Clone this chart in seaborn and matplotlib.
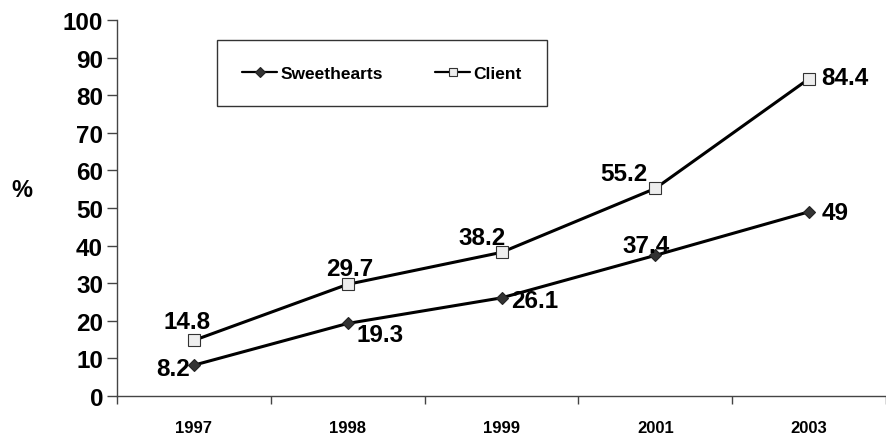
import matplotlib
matplotlib.use("Agg")
import matplotlib.pyplot as plt
import seaborn as sns
import numpy as np
import pandas as pd
from matplotlib.ticker import FixedLocator

years = ["1997", "1998", "1999", "2001", "2003"]
sweethearts = [8.2, 19.3, 26.1, 37.4, 49]
client = [14.8, 29.7, 38.2, 55.2, 84.4]
yticks = [0, 10, 20, 30, 40, 50, 60, 70, 80, 90, 100]

sns.set_style("white")
plt.rcParams["font.family"] = ["Liberation Sans", "DejaVu Sans"]
plt.rcParams["font.weight"] = "bold"
plt.rcParams["text.color"] = "black"
plt.rcParams["xtick.color"] = "black"
plt.rcParams["ytick.color"] = "black"
plt.rcParams["xtick.labelcolor"] = "black"
plt.rcParams["ytick.labelcolor"] = "black"

fig = plt.figure(figsize=(8.86, 4.39), dpi=100)
ax = fig.add_axes([117 / 886, 42 / 439, 1 - 117 / 886, (397 - 21) / 439])

pos = np.arange(len(years))
df_s = pd.DataFrame({"pos": pos, "val": sweethearts})
df_c = pd.DataFrame({"pos": pos, "val": client})

sns.lineplot(data=df_s, x="pos", y="val", ax=ax, color="black", linewidth=2.2,
             marker="D", markersize=6.2, markerfacecolor="#333333",
             markeredgecolor="#222222", markeredgewidth=0.8, label="Sweethearts")
sns.lineplot(data=df_c, x="pos", y="val", ax=ax, color="black", linewidth=2.2,
             marker="s", markersize=8, markerfacecolor="#eeeeee",
             markeredgecolor="#333333", markeredgewidth=0.8, label="Client")

ax.set_xlim(-0.5, len(years) - 0.5)
ax.set_ylim(0, 100)
ax.set_xlabel("")
ax.set_ylabel("")

ax.set_xticks(pos)
ax.set_xticklabels(years, fontsize=12, fontweight="bold")
ax.xaxis.set_minor_locator(FixedLocator(np.arange(-0.5, len(years), 1.0)))
ax.tick_params(axis="x", which="major", length=0, pad=17)
ax.tick_params(axis="x", which="minor", length=6, width=1, color="#444444", direction="out", bottom=True)
ax.set_yticks(yticks)
ax.set_yticklabels([str(v) for v in yticks], fontsize=17.5, fontweight="bold")
ax.tick_params(axis="y", length=7, width=1, color="#444444", direction="out", left=True, pad=3)

for s in ["top", "right"]:
    ax.spines[s].set_visible(False)
for s in ["left", "bottom"]:
    ax.spines[s].set_color("#444444")
    ax.spines[s].set_linewidth(1.0)

s_off = [(-21, -3), (32, -11), (33, -3), (-9, 10), (26, -1)]
c_off = [(-7, 19), (2, 16), (-19, 15), (-31, 15), (36, 1)]
for i, v in enumerate(sweethearts):
    ax.annotate(f"{v:g}", (pos[i], v), xytext=s_off[i], textcoords="offset pixels",
                ha="center", va="center", fontsize=17.5, fontweight="bold", color="black")
for i, v in enumerate(client):
    ax.annotate(f"{v:g}", (pos[i], v), xytext=c_off[i], textcoords="offset pixels",
                ha="center", va="center", fontsize=17.5, fontweight="bold", color="black")

fig.text(22 / 886, 1 - 191 / 439, "%", fontsize=17, fontweight="bold", ha="center", va="center",
         color="black")

leg = ax.legend(loc="center", bbox_to_anchor=(217 / 886, 1 - 108 / 439, 330 / 886, 68 / 439),
                bbox_transform=fig.transFigure, mode="expand", ncol=2, frameon=True,
                fancybox=False, shadow=False, edgecolor="black",
                borderpad=1.45, handlelength=2.0, handletextpad=0.2, columnspacing=2.0,
                borderaxespad=0, prop={"weight": "bold", "size": 12.5})
leg.get_frame().set_linewidth(1.0)
for t in leg.get_texts():
    t.set_color("black")
for h in leg.legend_handles:
    h.set_markersize(h.get_markersize() * 0.75)
    h.set_linewidth(1.6)

fig.savefig("out.png", dpi=100)
